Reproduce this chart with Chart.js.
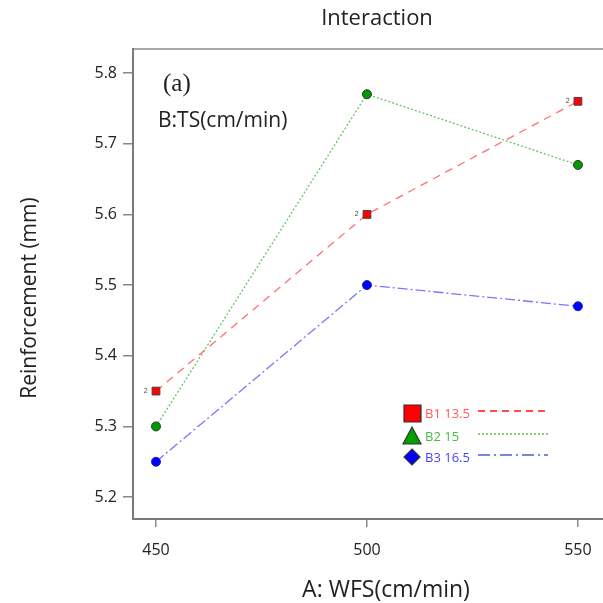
<!DOCTYPE html>
<html><head><meta charset="utf-8">
<script src="https://cdn.jsdelivr.net/npm/chart.js@4"></script>
<style>html,body{margin:0;padding:0;background:#fff}#wrap{width:603px;height:603px}</style>
</head><body><div id="wrap"><canvas id="c" width="603" height="603"></canvas></div>
<script>
const wfs = [450, 500, 550];
const b1 = [5.35, 5.60, 5.76];
const b2 = [5.30, 5.77, 5.67];
const b3 = [5.25, 5.50, 5.47];
const yTicks = [5.2, 5.3, 5.4, 5.5, 5.6, 5.7, 5.8];
const xTicks = [450, 500, 550];
const legendLabels = ['B1 13.5', 'B2 15', 'B3 16.5'];
const countLabels = ['2', '2', '2'];

const toPts = arr => arr.map((v, i) => ({x: wfs[i], y: v}));
const SANS = '"Open Sans", "DejaVu Sans", sans-serif';

const deco = {
  id: 'deco',
  afterDraw(chart) {
    const ctx = chart.ctx, a = chart.chartArea;
    const xs = chart.scales.x, ys = chart.scales.y;
    ctx.save();
    // plot border
    ctx.lineWidth = 2;
    ctx.strokeStyle = '#a8a8a8';
    ctx.beginPath(); ctx.moveTo(a.left, a.top); ctx.lineTo(603, a.top); ctx.stroke();
    ctx.strokeStyle = '#7a7a7a';
    ctx.beginPath(); ctx.moveTo(a.left, a.top - 1); ctx.lineTo(a.left, a.bottom); ctx.lineTo(603, a.bottom); ctx.stroke();
    // titles
    ctx.fillStyle = '#222';
    ctx.font = '22px ' + SANS;
    ctx.textAlign = 'center'; ctx.textBaseline = 'middle';
    ctx.fillText('Interaction', 377, 19);
    ctx.font = '23px ' + SANS;
    ctx.fillText('A: WFS(cm/min)', 386, 590);
    ctx.save();
    ctx.translate(30, 298); ctx.rotate(-Math.PI / 2);
    ctx.font = '21px ' + SANS;
    ctx.fillText('Reinforcement (mm)', 0, 0);
    ctx.restore();
    ctx.textAlign = 'left';
    ctx.font = '25px "Liberation Serif", serif';
    ctx.fillText('(a)', 163, 84);
    ctx.font = '21px ' + SANS;
    ctx.fillText('B:TS(cm/min)', 158, 121);
    // count labels
    ctx.font = '7px "DejaVu Sans", sans-serif';
    ctx.fillStyle = '#555'; ctx.textAlign = 'right';
    b1.forEach((v, i) => ctx.fillText(countLabels[i], xs.getPixelForValue(wfs[i]) - 8, ys.getPixelForValue(v)));
    // legend
    const rows = [
      {y: 413, color: '#ff5a5a', fill: '#ff0000', dash: [7, 5], line: '#ff1010', mark: 'rect'},
      {y: 436, color: '#44bb44', fill: '#00a000', dash: [2, 2], line: '#66bb44', mark: 'tri'},
      {y: 457, color: '#4444ff', fill: '#0000ff', dash: [12, 4, 2, 4], line: '#4466cc', mark: 'dia'}
    ];
    rows.forEach((r, i) => {
      ctx.fillStyle = r.fill; ctx.strokeStyle = '#333'; ctx.lineWidth = 1.2;
      ctx.beginPath();
      if (r.mark === 'rect') { ctx.rect(404, r.y - 8, 17, 17); }
      else if (r.mark === 'tri') { ctx.moveTo(412, r.y - 9); ctx.lineTo(421, r.y + 8); ctx.lineTo(403, r.y + 8); ctx.closePath(); }
      else { ctx.moveTo(412, r.y - 8); ctx.lineTo(420, r.y); ctx.lineTo(412, r.y + 8); ctx.lineTo(404, r.y); ctx.closePath(); }
      ctx.fill(); ctx.stroke();
      ctx.fillStyle = r.color; ctx.textAlign = 'left';
      ctx.font = '13px ' + SANS;
      ctx.fillText(legendLabels[i], 425, r.y + 1);
      ctx.strokeStyle = r.line; ctx.lineWidth = 1.6; ctx.setLineDash(r.dash);
      ctx.beginPath(); ctx.moveTo(478, r.y - 2); ctx.lineTo(548, r.y - 2); ctx.stroke();
      ctx.setLineDash([]);
    });
    ctx.restore();
  }
};

new Chart(document.getElementById('c'), {
  type: 'line',
  data: {
    datasets: [
      {label: 'B1', data: toPts(b1), borderColor: '#ff7070', borderDash: [8, 6], borderWidth: 1.3,
       pointStyle: 'rect', pointRadius: 5.5, pointBackgroundColor: '#ff0000', pointBorderColor: '#444', pointBorderWidth: 1},
      {label: 'B2', data: toPts(b2), borderColor: '#66c466', borderDash: [2, 2], borderWidth: 1.3,
       pointStyle: 'circle', pointRadius: 4.5, pointBackgroundColor: '#009900', pointBorderColor: '#333', pointBorderWidth: 1},
      {label: 'B3', data: toPts(b3), borderColor: '#7777ff', borderDash: [10, 3, 2, 3], borderWidth: 1.3,
       pointStyle: 'circle', pointRadius: 4.5, pointBackgroundColor: '#0000ff', pointBorderColor: '#2222aa', pointBorderWidth: 1}
    ]
  },
  options: {
    responsive: false, animation: false,
    layout: {padding: {top: 49, right: 3, left: 0, bottom: 0}},
    plugins: {legend: {display: false}, tooltip: {enabled: false}},
    elements: {line: {tension: 0}},
    scales: {
      x: {
        type: 'linear', min: 444.55, max: 554.4,
        afterBuildTicks: s => { s.ticks = xTicks.map(v => ({value: v})); },
        afterFit: s => { s.height = 84; s.paddingLeft = 0; s.paddingRight = 0; },
        grid: {drawOnChartArea: false, drawTicks: true, tickLength: 8, color: '#888', lineWidth: 1.5},
        border: {display: false},
        ticks: {padding: 14, color: '#222', font: {size: 16, family: SANS}, maxRotation: 0,
                callback: v => String(v)}
      },
      y: {
        min: 5.169, max: 5.834,
        afterBuildTicks: s => { s.ticks = yTicks.map(v => ({value: v})); },
        afterFit: s => { s.width = 133; s.paddingTop = 0; s.paddingBottom = 0; },
        grid: {drawOnChartArea: false, drawTicks: true, tickLength: 10, color: '#888', lineWidth: 1.5},
        border: {display: false},
        ticks: {padding: 6, color: '#222', font: {size: 16, family: SANS},
                callback: v => Number(v).toFixed(1)}
      }
    }
  },
  plugins: [deco]
});
</script></body></html>
